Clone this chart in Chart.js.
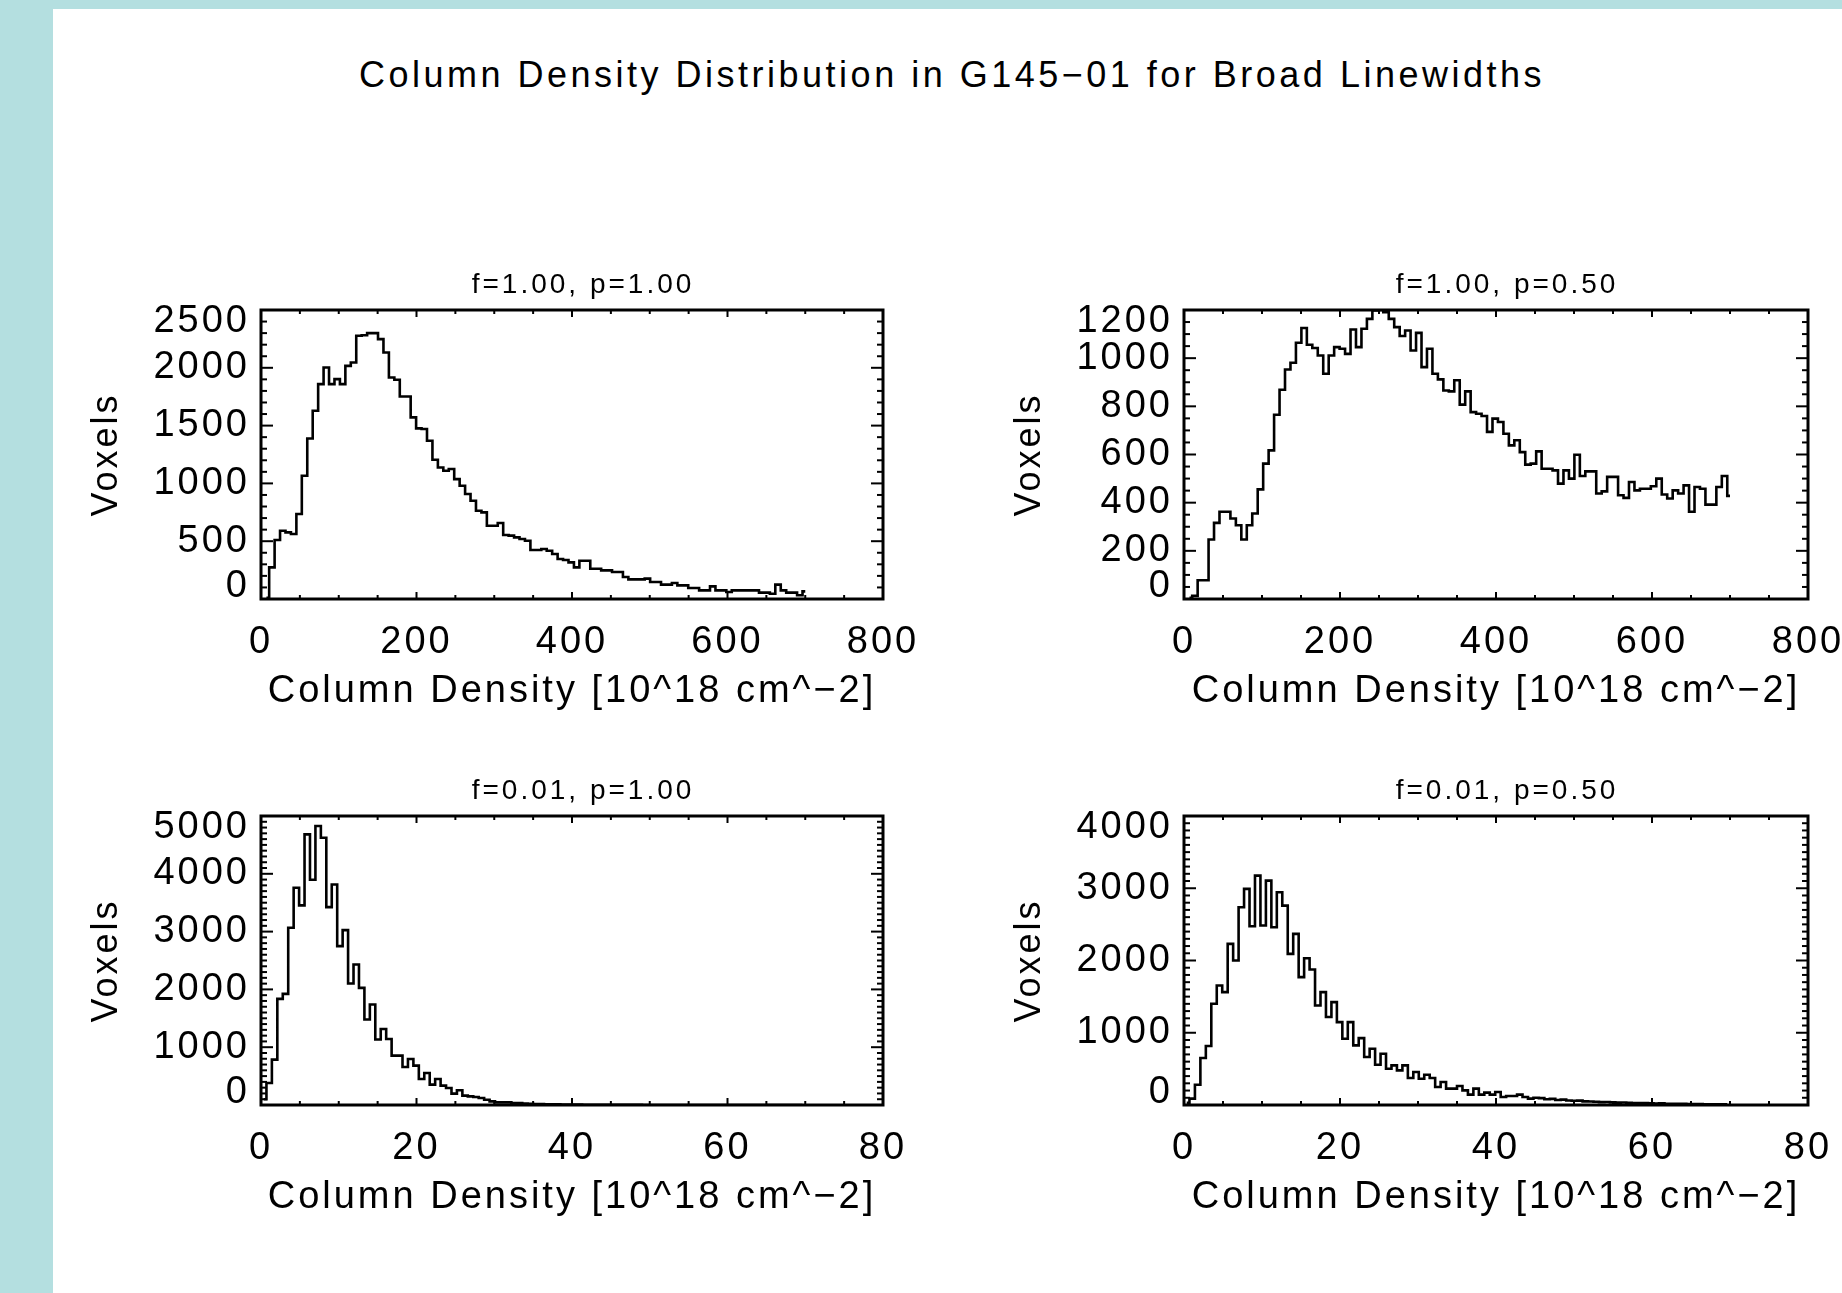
<!DOCTYPE html>
<html>
<head>
<meta charset="utf-8">
<script src="https://cdn.jsdelivr.net/npm/chart.js@4.4.1/dist/chart.umd.min.js"></script>
<style>
html, body { margin: 0; padding: 0; }
body { width: 1842px; height: 1293px; background: #b4dfe0; position: relative; overflow: hidden;
       font-family: "Liberation Sans", Arial, sans-serif; }
#sheet { position: absolute; left: 53px; top: 9px; right: 0; bottom: 0; background: #fff; }
#title { position: absolute; left: 952px; top: 55px; transform: translateX(-50%); white-space: nowrap;
         font-size: 36px; line-height: 40px; letter-spacing: 3.5px; color: #000; }
canvas { position: absolute; }
</style>
</head>
<body>
<div id="sheet"></div>
<div id="title">Column Density Distribution in G145−01 for Broad Linewidths</div>
<canvas id="tl"></canvas>
<canvas id="tr"></canvas>
<canvas id="bl"></canvas>
<canvas id="br"></canvas>
<script>
// histogram bin widths (10^18 cm^-2)
const wideBin = 7;
const narrowBin = 0.7;

// voxel counts per bin, f=1.00 p=1.00
const f100p100 = [10, 274, 510, 590, 576, 562, 735, 1066, 1389, 1628,
  1859, 2003, 1859, 1902, 1859, 2017, 2046, 2277, 2282, 2300,
  2300, 2248, 2133, 1916, 1896, 1752, 1752, 1571, 1476, 1470,
  1369, 1205, 1138, 1110, 1124, 1037, 980, 908, 850, 764,
  749, 634, 634, 657, 553, 548, 533, 519, 504, 424,
  424, 432, 418, 389, 346, 337, 317, 274, 331, 331,
  262, 262, 248, 248, 233, 233, 190, 170, 170, 170,
  176, 147, 147, 124, 124, 138, 118, 118, 95, 95,
  75, 75, 109, 75, 75, 60, 75, 75, 75, 75,
  75, 55, 55, 46, 124, 75, 55, 55, 32, 66];

// f=1.00 p=0.50
const f100p050 = [5, 13, 78, 78, 247, 316, 362, 362, 334, 306,
  247, 306, 355, 455, 562, 617, 765, 869, 953, 981,
  1064, 1125, 1056, 1042, 1011, 935, 1011, 1046, 1039, 1018,
  1119, 1046, 1122, 1163, 1198, 1200, 1191, 1163, 1129, 1092,
  1115, 1032, 1105, 963, 1039, 935, 912, 866, 862, 908,
  807, 862, 776, 769, 760, 694, 749, 735, 686, 638,
  659, 610, 558, 562, 613, 541, 541, 534, 479, 534,
  500, 599, 511, 530, 530, 438, 447, 507, 507, 431,
  420, 486, 451, 458, 458, 468, 500, 434, 417, 451,
  438, 472, 362, 465, 458, 392, 392, 465, 511, 428];

// f=0.01 p=1.00
const f001p100 = [100, 381, 785, 1836, 1923, 3067, 3759, 3453, 4682, 3898,
  4827, 4624, 3424, 3816, 2748, 3025, 2102, 2431, 2027, 1478,
  1738, 1132, 1316, 1143, 854, 854, 658, 797, 681, 450,
  554, 352, 450, 335, 294, 196, 254, 162, 150, 139,
  121, 92, 63, 46, 46, 46, 35, 35, 25, 22,
  18, 16, 14, 12, 10, 9, 8, 7, 6, 5,
  5, 4, 4, 3, 3, 3, 2, 2, 2, 2,
  1, 1, 1, 1, 1, 1, 1, 1, 1, 1,
  1, 1, 1, 0, 1, 1, 0, 1, 0, 0,
  1, 0, 0, 1, 0, 0, 0, 1, 0, 0];

// f=0.01 p=0.50
const f001p050 = [30, 88, 281, 650, 816, 1401, 1654, 1562, 2230, 2000,
  2737, 2991, 2475, 3175, 2484, 3106, 2461, 2945, 2760, 2092,
  2369, 1770, 2032, 1876, 1378, 1562, 1217, 1424, 1147, 917,
  1147, 825, 926, 664, 779, 558, 710, 502, 548, 479,
  548, 373, 456, 364, 419, 373, 249, 318, 226, 226,
  263, 203, 143, 226, 143, 171, 143, 180, 111, 124,
  124, 143, 111, 88, 100, 95, 80, 85, 70, 75,
  62, 58, 60, 50, 48, 45, 40, 42, 36, 33,
  35, 30, 28, 26, 27, 22, 20, 22, 18, 17,
  15, 16, 13, 12, 14, 11, 10, 9, 10, 8];

const panelTitles = ['f=1.00, p=1.00', 'f=1.00, p=0.50', 'f=0.01, p=1.00', 'f=0.01, p=0.50'];
const xTitle = 'Column Density [10^18 cm^\u22122]';
const yTitle = 'Voxels';

const fontFamily = '"Liberation Sans", Arial, sans-serif';
Chart.defaults.font.family = fontFamily;
Chart.defaults.color = '#000';

// canvas text spacing, IDL fonts are quite airy
const spacing = {
  id: 'spacing',
  beforeLayout(chart) { chart.ctx.letterSpacing = '3px'; },
  beforeDraw(chart) { chart.ctx.letterSpacing = '3px'; }
};

// IDL pushes the first and last y labels inward
const nudgeEnds = {
  id: 'nudgeEnds',
  beforeDraw(chart) {
    const items = chart.scales.y.getLabelItems();
    if (!items.length || items._nudged) return;
    items[0].options.translation[1] -= 12;
    items[items.length - 1].options.translation[1] += 12;
    items._nudged = true;
  }
};

// box frame with inward major/minor ticks on all four sides, plus the panel title
const idlFrame = {
  id: 'idlFrame',
  afterDatasetsDraw(chart, args, o) {
    const { ctx, chartArea: a, scales: { x, y } } = chart;
    ctx.save();
    ctx.strokeStyle = '#000';
    ctx.lineWidth = 2;
    const seg = (x1, y1, x2, y2) => { ctx.beginPath(); ctx.moveTo(x1, y1); ctx.lineTo(x2, y2); ctx.stroke(); };
    let n = Math.round((x.max - x.min) / o.xMinor);
    for (let k = 0; k <= n; k++) {
      const px = x.getPixelForValue(x.min + k * o.xMinor);
      const len = (k % Math.round(o.xMajor / o.xMinor) === 0) ? 7 : 4;
      seg(px, a.bottom, px, a.bottom - len);
      seg(px, a.top, px, a.top + len);
    }
    n = Math.round((y.max - y.min) / o.yMinor);
    for (let k = 0; k <= n; k++) {
      const py = y.getPixelForValue(y.min + k * o.yMinor);
      const len = (k % Math.round(o.yMajor / o.yMinor) === 0) ? 12 : 6;
      seg(a.left, py, a.left + len, py);
      seg(a.right, py, a.right - len, py);
    }
    ctx.lineWidth = 3;
    ctx.strokeRect(a.left, a.top, a.right - a.left, a.bottom - a.top);

    ctx.fillStyle = '#000';
    ctx.font = '28px ' + fontFamily;
    ctx.textAlign = 'center';
    ctx.textBaseline = 'middle';
    ctx.fillText(o.title, (a.left + a.right) / 2 + 11, a.top - 25);
    ctx.restore();
  }
};

// shift: where in the bin the plotted step is centred (in bins)
const panels = [
  { id: 'tl', left: 261, top: 310, w: 622, h: 289, title: panelTitles[0], values: f100p100, bin: wideBin, shift: 1,
    xMax: 800, xMajor: 200, xMinor: 50, yMax: 2500, yMajor: 500, yMinor: 100 },
  { id: 'tr', left: 1184, top: 310, w: 624, h: 289, title: panelTitles[1], values: f100p050, bin: wideBin, shift: 1,
    xMax: 800, xMajor: 200, xMinor: 50, yMax: 1200, yMajor: 200, yMinor: 50 },
  { id: 'bl', left: 261, top: 816, w: 622, h: 289, title: panelTitles[2], values: f001p100, bin: narrowBin, shift: 0.5,
    xMax: 80, xMajor: 20, xMinor: 5, yMax: 5000, yMajor: 1000, yMinor: 100 },
  { id: 'br', left: 1184, top: 816, w: 624, h: 289, title: panelTitles[3], values: f001p050, bin: narrowBin, shift: 0.5,
    xMax: 80, xMajor: 20, xMinor: 5, yMax: 4000, yMajor: 1000, yMinor: 100 }
];

const yAxisW = 200, xAxisH = 120, titleH = 52, padRight = 60;

panels.forEach(p => {
  const cv = document.getElementById(p.id);
  cv.width = yAxisW + p.w + padRight;
  cv.height = titleH + p.h + xAxisH;
  cv.style.left = (p.left - yAxisW) + 'px';
  cv.style.top = (p.top - titleH) + 'px';

  new Chart(cv, {
    type: 'line',
    data: {
      datasets: [{
        data: p.values.map((v, i) => ({ x: (i + p.shift) * p.bin, y: v })),
        stepped: 'middle',
        borderColor: '#000',
        borderWidth: 2.6,
        pointRadius: 0,
        fill: false
      }]
    },
    options: {
      responsive: false,
      animation: false,
      events: [],
      layout: { padding: { left: 0, top: titleH, right: padRight, bottom: 0 } },
      plugins: {
        legend: { display: false },
        tooltip: { enabled: false },
        title: { display: false },
        idlFrame: { title: p.title, xMajor: p.xMajor, xMinor: p.xMinor, yMajor: p.yMajor, yMinor: p.yMinor }
      },
      scales: {
        x: {
          type: 'linear', min: 0, max: p.xMax,
          grid: { display: false, drawTicks: false },
          border: { display: false },
          ticks: { stepSize: p.xMajor, autoSkip: false, maxRotation: 0, padding: 21, font: { size: 38 },
                   callback: v => String(v) },
          title: { display: true, text: xTitle, font: { size: 38 }, padding: { top: 0, bottom: 5 } },
          afterFit: s => { s.height = xAxisH; }
        },
        y: {
          type: 'linear', min: 0, max: p.yMax,
          grid: { display: false, drawTicks: false },
          border: { display: false },
          ticks: { stepSize: p.yMajor, autoSkip: false, padding: 11, font: { size: 38 },
                   callback: v => String(v) },
          title: { display: true, text: yTitle, font: { size: 36 }, padding: { top: 24, bottom: 0 } },
          afterFit: s => { s.width = yAxisW; }
        }
      }
    },
    plugins: [spacing, nudgeEnds, idlFrame]
  });
});
</script>
</body>
</html>
